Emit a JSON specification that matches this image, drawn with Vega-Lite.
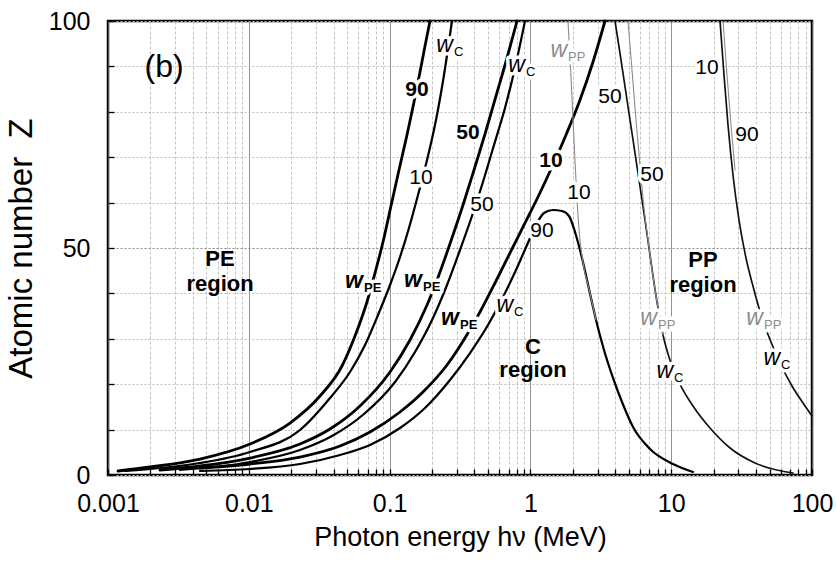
{
 "$schema": "https://vega.github.io/schema/vega-lite/v6.json",
 "width": 704, "height": 454,
 "autosize": {"type": "none"},
 "padding": {"left": 108, "top": 21, "right": 24, "bottom": 89},
 "background": "white",
 "config": {"view": {"stroke": "black", "strokeWidth": 2.5}, "font": "Liberation Sans"},
 "datasets": {
  "curves": [
   {"curve":"PE90","kind":"PE","i":0,"E":0.001178,"Z":0.88},{"curve":"PE90","kind":"PE","i":1,"E":0.001988,"Z":1.76},{"curve":"PE90","kind":"PE","i":2,"E":0.004502,"Z":3.52},{"curve":"PE90","kind":"PE","i":3,"E":0.0102,"Z":6.83},{"curve":"PE90","kind":"PE","i":4,"E":0.01962,"Z":11.45},{"curve":"PE90","kind":"PE","i":5,"E":0.03204,"Z":17.4},{"curve":"PE90","kind":"PE","i":6,"E":0.04591,"Z":24.01},{"curve":"PE90","kind":"PE","i":7,"E":0.05678,"Z":30.62},{"curve":"PE90","kind":"PE","i":8,"E":0.068,"Z":37.44},{"curve":"PE90","kind":"PE","i":9,"E":0.07876,"Z":44.49},{"curve":"PE90","kind":"PE","i":10,"E":0.08976,"Z":51.32},{"curve":"PE90","kind":"PE","i":11,"E":0.1023,"Z":59.25},{"curve":"PE90","kind":"PE","i":12,"E":0.1166,"Z":67.18},{"curve":"PE90","kind":"PE","i":13,"E":0.1329,"Z":74.89},{"curve":"PE90","kind":"PE","i":14,"E":0.1491,"Z":82.16},{"curve":"PE90","kind":"PE","i":15,"E":0.1644,"Z":88.77},{"curve":"PE90","kind":"PE","i":16,"E":0.1784,"Z":94.49},{"curve":"PE90","kind":"PE","i":17,"E":0.1936,"Z":100},
   {"curve":"C10L","kind":"C","i":0,"E":0.001321,"Z":0.88},{"curve":"C10L","kind":"C","i":1,"E":0.001988,"Z":1.32},{"curve":"C10L","kind":"C","i":2,"E":0.004502,"Z":2.64},{"curve":"C10L","kind":"C","i":3,"E":0.0102,"Z":5.07},{"curve":"C10L","kind":"C","i":4,"E":0.0231,"Z":9.91},{"curve":"C10L","kind":"C","i":5,"E":0.03773,"Z":16.96},{"curve":"C10L","kind":"C","i":6,"E":0.05234,"Z":22.69},{"curve":"C10L","kind":"C","i":7,"E":0.0669,"Z":28.63},{"curve":"C10L","kind":"C","i":8,"E":0.08272,"Z":35.24},{"curve":"C10L","kind":"C","i":9,"E":0.1007,"Z":41.85},{"curve":"C10L","kind":"C","i":10,"E":0.1186,"Z":48.02},{"curve":"C10L","kind":"C","i":11,"E":0.1373,"Z":54.41},{"curve":"C10L","kind":"C","i":12,"E":0.1591,"Z":61.67},{"curve":"C10L","kind":"C","i":13,"E":0.1845,"Z":69.38},{"curve":"C10L","kind":"C","i":14,"E":0.2136,"Z":78.19},{"curve":"C10L","kind":"C","i":15,"E":0.2434,"Z":88.11},{"curve":"C10L","kind":"C","i":16,"E":0.2773,"Z":100},
   {"curve":"PE50","kind":"PE","i":0,"E":0.00234,"Z":1.1},{"curve":"PE50","kind":"PE","i":1,"E":0.004502,"Z":1.98},{"curve":"PE50","kind":"PE","i":2,"E":0.0102,"Z":3.74},{"curve":"PE50","kind":"PE","i":3,"E":0.0231,"Z":6.83},{"curve":"PE50","kind":"PE","i":4,"E":0.03773,"Z":10.13},{"curve":"PE50","kind":"PE","i":5,"E":0.06163,"Z":15.2},{"curve":"PE50","kind":"PE","i":6,"E":0.1007,"Z":22.69},{"curve":"PE50","kind":"PE","i":7,"E":0.1396,"Z":29.74},{"curve":"PE50","kind":"PE","i":8,"E":0.1845,"Z":37.44},{"curve":"PE50","kind":"PE","i":9,"E":0.2281,"Z":44.71},{"curve":"PE50","kind":"PE","i":10,"E":0.2773,"Z":52.2},{"curve":"PE50","kind":"PE","i":11,"E":0.3322,"Z":59.47},{"curve":"PE50","kind":"PE","i":12,"E":0.3976,"Z":67.18},{"curve":"PE50","kind":"PE","i":13,"E":0.4761,"Z":75.11},{"curve":"PE50","kind":"PE","i":14,"E":0.5697,"Z":83.48},{"curve":"PE50","kind":"PE","i":15,"E":0.6819,"Z":91.85},{"curve":"PE50","kind":"PE","i":16,"E":0.8035,"Z":100},
   {"curve":"C50L","kind":"C","i":0,"E":0.003243,"Z":1.1},{"curve":"C50L","kind":"C","i":1,"E":0.0102,"Z":2.86},{"curve":"C50L","kind":"C","i":2,"E":0.0231,"Z":5.51},{"curve":"C50L","kind":"C","i":3,"E":0.03899,"Z":8.59},{"curve":"C50L","kind":"C","i":4,"E":0.06579,"Z":13.44},{"curve":"C50L","kind":"C","i":5,"E":0.1093,"Z":20.48},{"curve":"C50L","kind":"C","i":6,"E":0.1515,"Z":27.09},{"curve":"C50L","kind":"C","i":7,"E":0.2033,"Z":34.58},{"curve":"C50L","kind":"C","i":8,"E":0.2557,"Z":41.85},{"curve":"C50L","kind":"C","i":9,"E":0.3162,"Z":49.56},{"curve":"C50L","kind":"C","i":10,"E":0.3847,"Z":57.05},{"curve":"C50L","kind":"C","i":11,"E":0.4603,"Z":64.54},{"curve":"C50L","kind":"C","i":12,"E":0.5515,"Z":72.69},{"curve":"C50L","kind":"C","i":13,"E":0.66,"Z":80.84},{"curve":"C50L","kind":"C","i":14,"E":0.7772,"Z":89.65},{"curve":"C50L","kind":"C","i":15,"E":0.9153,"Z":100},
   {"curve":"PE10","kind":"PE","i":0,"E":0.004502,"Z":1.54},{"curve":"PE10","kind":"PE","i":1,"E":0.0102,"Z":2.42},{"curve":"PE10","kind":"PE","i":2,"E":0.0231,"Z":3.96},{"curve":"PE10","kind":"PE","i":3,"E":0.0445,"Z":6.39},{"curve":"PE10","kind":"PE","i":4,"E":0.07261,"Z":9.47},{"curve":"PE10","kind":"PE","i":5,"E":0.1186,"Z":13.88},{"curve":"PE10","kind":"PE","i":6,"E":0.1784,"Z":18.72},{"curve":"PE10","kind":"PE","i":7,"E":0.2557,"Z":24.23},{"curve":"PE10","kind":"PE","i":8,"E":0.3432,"Z":30.18},{"curve":"PE10","kind":"PE","i":9,"E":0.4385,"Z":35.9},{"curve":"PE10","kind":"PE","i":10,"E":0.5605,"Z":42.29},{"curve":"PE10","kind":"PE","i":11,"E":0.7161,"Z":48.9},{"curve":"PE10","kind":"PE","i":12,"E":0.9006,"Z":55.07},{"curve":"PE10","kind":"PE","i":13,"E":1.132,"Z":61.23},{"curve":"PE10","kind":"PE","i":14,"E":1.423,"Z":67.84},{"curve":"PE10","kind":"PE","i":15,"E":1.789,"Z":74.89},{"curve":"PE10","kind":"PE","i":16,"E":2.25,"Z":82.6},{"curve":"PE10","kind":"PE","i":17,"E":2.783,"Z":90.97},{"curve":"PE10","kind":"PE","i":18,"E":3.388,"Z":100},
   {"curve":"C90","kind":"C","i":0,"E":0.004502,"Z":0.88},{"curve":"C90","kind":"C","i":1,"E":0.0102,"Z":1.32},{"curve":"C90","kind":"C","i":2,"E":0.0231,"Z":2.42},{"curve":"C90","kind":"C","i":3,"E":0.0445,"Z":4.41},{"curve":"C90","kind":"C","i":4,"E":0.07261,"Z":6.61},{"curve":"C90","kind":"C","i":5,"E":0.1186,"Z":10.35},{"curve":"C90","kind":"C","i":6,"E":0.1784,"Z":14.76},{"curve":"C90","kind":"C","i":7,"E":0.2685,"Z":20.93},{"curve":"C90","kind":"C","i":8,"E":0.3724,"Z":26.87},{"curve":"C90","kind":"C","i":9,"E":0.4998,"Z":33.04},{"curve":"C90","kind":"C","i":10,"E":0.6388,"Z":39.21},{"curve":"C90","kind":"C","i":11,"E":0.79,"Z":45.15},{"curve":"C90","kind":"C","i":12,"E":0.946,"Z":50.66},{"curve":"C90","kind":"C","i":13,"E":1.096,"Z":55.07},{"curve":"C90","kind":"C","i":14,"E":1.249,"Z":57.71},{"curve":"C90","kind":"C","i":15,"E":1.447,"Z":58.37},{"curve":"C90","kind":"C","i":16,"E":1.676,"Z":58.15},{"curve":"C90","kind":"C","i":17,"E":1.88,"Z":57.05},{"curve":"C90","kind":"C","i":18,"E":2.074,"Z":53.52},{"curve":"C90","kind":"C","i":19,"E":2.325,"Z":47.8},{"curve":"C90","kind":"C","i":20,"E":2.607,"Z":40.97},{"curve":"C90","kind":"C","i":21,"E":2.924,"Z":34.14},{"curve":"C90","kind":"C","i":22,"E":3.332,"Z":27.53},{"curve":"C90","kind":"C","i":23,"E":3.861,"Z":21.37},{"curve":"C90","kind":"C","i":24,"E":4.473,"Z":16.08},{"curve":"C90","kind":"C","i":25,"E":5.356,"Z":10.57},{"curve":"C90","kind":"C","i":26,"E":7.071,"Z":5.73},{"curve":"C90","kind":"C","i":27,"E":10.3,"Z":2.42},{"curve":"C90","kind":"C","i":28,"E":14.28,"Z":0.66},
   {"curve":"PP10","kind":"PP","i":0,"E":1.849,"Z":100},{"curve":"PP10","kind":"PP","i":1,"E":1.942,"Z":87.67},{"curve":"PP10","kind":"PP","i":2,"E":2.04,"Z":73.79},{"curve":"PP10","kind":"PP","i":3,"E":2.143,"Z":60.57},{"curve":"PP10","kind":"PP","i":4,"E":2.25,"Z":51.76},{"curve":"PP10","kind":"PP","i":5,"E":2.403,"Z":45.59},{"curve":"PP10","kind":"PP","i":6,"E":2.607,"Z":40.97},{"curve":"PP10","kind":"PP","i":7,"E":2.924,"Z":34.14},
   {"curve":"R50","kind":"R","i":0,"E":3.99,"Z":100},{"curve":"R50","kind":"R","i":1,"E":4.401,"Z":91.41},{"curve":"R50","kind":"R","i":2,"E":4.853,"Z":82.6},{"curve":"R50","kind":"R","i":3,"E":5.356,"Z":73.79},{"curve":"R50","kind":"R","i":4,"E":5.906,"Z":64.98},{"curve":"R50","kind":"R","i":5,"E":6.515,"Z":56.17},{"curve":"R50","kind":"R","i":6,"E":7.187,"Z":46.92},{"curve":"R50","kind":"R","i":7,"E":7.925,"Z":38.11},{"curve":"R50","kind":"R","i":8,"E":8.745,"Z":30.84},{"curve":"R50","kind":"R","i":9,"E":9.796,"Z":25.33},{"curve":"R50","kind":"R","i":10,"E":11.54,"Z":20.04},{"curve":"R50","kind":"R","i":11,"E":14.28,"Z":15.2},{"curve":"R50","kind":"R","i":12,"E":18.86,"Z":10.35},{"curve":"R50","kind":"R","i":13,"E":26.18,"Z":5.95},{"curve":"R50","kind":"R","i":14,"E":39.37,"Z":2.64},{"curve":"R50","kind":"R","i":15,"E":73.31,"Z":0.44},
   {"curve":"PP50","kind":"PP","i":0,"E":4.932,"Z":100},{"curve":"PP50","kind":"PP","i":1,"E":5.269,"Z":89.21},{"curve":"PP50","kind":"PP","i":2,"E":5.623,"Z":78.19},{"curve":"PP50","kind":"PP","i":3,"E":6.0,"Z":68.28},{"curve":"PP50","kind":"PP","i":4,"E":6.409,"Z":58.81},{"curve":"PP50","kind":"PP","i":5,"E":6.843,"Z":51.76},{"curve":"PP50","kind":"PP","i":6,"E":7.187,"Z":46.92},{"curve":"PP50","kind":"PP","i":7,"E":7.925,"Z":38.11},{"curve":"PP50","kind":"PP","i":8,"E":8.745,"Z":30.84},
   {"curve":"R90","kind":"R","i":0,"E":22.22,"Z":100},{"curve":"R90","kind":"R","i":1,"E":23.71,"Z":88.11},{"curve":"R90","kind":"R","i":2,"E":25.32,"Z":77.09},{"curve":"R90","kind":"R","i":3,"E":27.47,"Z":66.08},{"curve":"R90","kind":"R","i":4,"E":30.3,"Z":56.17},{"curve":"R90","kind":"R","i":5,"E":33.98,"Z":47.8},{"curve":"R90","kind":"R","i":6,"E":38.73,"Z":40.75},{"curve":"R90","kind":"R","i":7,"E":44.16,"Z":34.58},{"curve":"R90","kind":"R","i":8,"E":51.14,"Z":29.3},{"curve":"R90","kind":"R","i":9,"E":60.23,"Z":24.23},{"curve":"R90","kind":"R","i":10,"E":72.11,"Z":19.6},{"curve":"R90","kind":"R","i":11,"E":86.3,"Z":15.86},{"curve":"R90","kind":"R","i":12,"E":100,"Z":13.0},
   {"curve":"PP90","kind":"PP","i":0,"E":23.33,"Z":100},{"curve":"PP90","kind":"PP","i":1,"E":24.91,"Z":88.11},{"curve":"PP90","kind":"PP","i":2,"E":26.6,"Z":77.09},{"curve":"PP90","kind":"PP","i":3,"E":28.39,"Z":67.18}
  ],
  "labels": [
   {"text":"(b)","kind":"panel","E":0.0025,"Z":89.9},
   {"text":"PE","kind":"region","E":0.006245,"Z":47.6},{"text":"region","kind":"region","E":0.006245,"Z":42.1},
   {"text":"C","kind":"region","E":1.043,"Z":28.2},{"text":"region","kind":"region","E":1.043,"Z":23.1},
   {"text":"PP","kind":"region","E":16.82,"Z":47.36},{"text":"region","kind":"region","E":16.82,"Z":41.85},
   {"text":"90","kind":"numb","E":0.1565,"Z":84.8},{"text":"50","kind":"numb","E":0.3606,"Z":75.3},{"text":"10","kind":"numb","E":1.4,"Z":69.2},
   {"text":"10","kind":"num","E":0.1671,"Z":65.4},{"text":"50","kind":"num","E":0.4531,"Z":59.5},{"text":"90","kind":"num","E":1.209,"Z":53.7},{"text":"10","kind":"num","E":2.214,"Z":62.1},{"text":"50","kind":"num","E":7.303,"Z":66.1},{"text":"50","kind":"num","E":3.675,"Z":83.3},{"text":"10","kind":"num","E":17.96,"Z":89.6},{"text":"90","kind":"num","E":34.54,"Z":74.9}
  ],
  "wlabels": [
   {"sub":"PE","kind":"PE","E":0.06471,"Z":41.19},{"sub":"PE","kind":"PE","E":0.1699,"Z":41.4},{"sub":"PE","kind":"PE","E":0.311,"Z":33.0},
   {"sub":"C","kind":"C","E":0.2818,"Z":93.2},{"sub":"C","kind":"C","E":0.9153,"Z":88.8},{"sub":"C","kind":"C","E":0.7524,"Z":35.9},{"sub":"C","kind":"C","E":10.3,"Z":21.4},{"sub":"C","kind":"C","E":59.27,"Z":24.2},
   {"sub":"PP","kind":"PP","E":1.82,"Z":92.1},{"sub":"PP","kind":"PP","E":7.925,"Z":33.0},{"sub":"PP","kind":"PP","E":44.87,"Z":33.0}
  ]
 },
 "encoding": {
  "x": {"field": "E", "type": "quantitative",
   "scale": {"type": "log", "domain": [0.001, 100], "nice": false},
   "axis": {
    "title": "Photon energy hν (MeV)",
    "values": [0.001,0.002,0.003,0.004,0.005,0.006,0.007,0.008,0.009,0.01,0.02,0.03,0.04,0.05,0.06,0.07,0.08,0.09,0.1,0.2,0.3,0.4,0.5,0.6,0.7,0.8,0.9,1,2,3,4,5,6,7,8,9,10,20,30,40,50,60,70,80,90,100],
    "format": "~g",
    "labelExpr": "abs(log(datum.value)/LN10 - round(log(datum.value)/LN10)) < 0.01 ? datum.label : ''",
    "labelFont": "Liberation Sans", "labelFontSize": 25, "labelColor": "black",
    "labelOverlap": false, "labelFlush": false, "labelBound": false, "labelPadding": 22,
    "tickSize": -6, "tickColor": "black", "tickWidth": 1.3,
    "domain": false,
    "grid": true,
    "gridColor": {"condition": {"test": "abs(log(datum.value)/LN10 - round(log(datum.value)/LN10)) < 0.01", "value": "#6e6e6e"}, "value": "#c4c4c4"},
    "gridDash": {"condition": {"test": "abs(log(datum.value)/LN10 - round(log(datum.value)/LN10)) < 0.01", "value": [1, 0]}, "value": [3, 2]},
    "gridWidth": 1,
    "titleFont": "Liberation Sans", "titleFontSize": 27, "titleFontWeight": "normal", "titleColor": "black", "titlePadding": 8
   }
  },
  "y": {"field": "Z", "type": "quantitative",
   "scale": {"domain": [0, 100], "nice": false, "zero": false},
   "axis": {
    "title": "Atomic number\u00a0 Z",
    "values": [0,10,20,30,40,50,60,70,80,90,100],
    "labelExpr": "datum.value % 50 == 0 ? datum.label : ''",
    "labelFont": "Liberation Sans", "labelFontSize": 25, "labelColor": "black",
    "labelOverlap": false, "labelFlush": false, "labelBound": false, "labelPadding": 24,
    "tickSize": -6, "tickColor": "black", "tickWidth": 1.3,
    "domain": false,
    "grid": true,
    "gridColor": {"condition": {"test": "datum.value == 50", "value": "#8a8a8a"}, "value": "#bdbdbd"},
    "gridDash": [2, 2],
    "gridWidth": 1,
    "titleFont": "Liberation Sans", "titleFontSize": 33, "titleFontWeight": "normal", "titleColor": "black", "titlePadding": 10
   }
  }
 },
 "layer": [
  {"data": {"name": "curves"},
   "mark": {"type": "line", "interpolate": "monotone", "strokeCap": "round"},
   "encoding": {
    "detail": {"field": "curve", "type": "nominal"},
    "order": {"field": "i", "type": "quantitative"},
    "color": {"field": "kind", "type": "nominal", "scale": {"domain": ["PE","C","R","PP"], "range": ["#000000","#000000","#111111","#8c8c8c"]}, "legend": null},
    "strokeWidth": {"field": "kind", "type": "nominal", "scale": {"domain": ["PE","C","R","PP"], "range": [2.8, 1.1, 1.5, 1.8]}, "legend": null}
   }
  },
  {"data": {"name": "labels"}, "transform": [{"filter": "datum.kind == 'numb'"}],
   "mark": {"type": "text", "font": "Liberation Sans", "fontSize": 21, "fontWeight": "bold", "fill": "white", "stroke": "white", "strokeWidth": 7, "strokeJoin": "round"},
   "encoding": {"text": {"field": "text"}}},
  {"data": {"name": "labels"}, "transform": [{"filter": "datum.kind == 'num'"}],
   "mark": {"type": "text", "font": "Liberation Sans", "fontSize": 21, "fill": "white", "stroke": "white", "strokeWidth": 7, "strokeJoin": "round"},
   "encoding": {"text": {"field": "text"}}},
  {"data": {"name": "wlabels"},
   "mark": {"type": "text", "font": "Liberation Sans", "fontSize": 23, "fontStyle": "italic", "align": "right", "baseline": "alphabetic", "fill": "white", "stroke": "white", "strokeWidth": 7, "strokeJoin": "round"},
   "encoding": {"text": {"value": "w"}}},
  {"data": {"name": "wlabels"},
   "mark": {"type": "text", "font": "Liberation Sans", "fontSize": 13, "align": "left", "baseline": "alphabetic", "dx": 1, "dy": 4, "fill": "white", "stroke": "white", "strokeWidth": 7, "strokeJoin": "round"},
   "encoding": {"text": {"field": "sub"}}},
  {"data": {"name": "labels"}, "transform": [{"filter": "datum.kind == 'numb'"}],
   "mark": {"type": "text", "font": "Liberation Sans", "fontSize": 21, "fontWeight": "bold", "fill": "black"},
   "encoding": {"text": {"field": "text"}}},
  {"data": {"name": "labels"}, "transform": [{"filter": "datum.kind == 'num'"}],
   "mark": {"type": "text", "font": "Liberation Sans", "fontSize": 21, "fill": "black"},
   "encoding": {"text": {"field": "text"}}},
  {"data": {"name": "labels"}, "transform": [{"filter": "datum.kind == 'region'"}],
   "mark": {"type": "text", "font": "Liberation Sans", "fontSize": 22, "fontWeight": "bold", "fill": "black"},
   "encoding": {"text": {"field": "text"}}},
  {"data": {"name": "labels"}, "transform": [{"filter": "datum.kind == 'panel'"}],
   "mark": {"type": "text", "font": "Liberation Sans", "fontSize": 32, "fill": "black"},
   "encoding": {"text": {"field": "text"}}},
  {"data": {"name": "wlabels"}, "transform": [{"filter": "datum.kind == 'PE'"}],
   "mark": {"type": "text", "font": "Liberation Sans", "fontSize": 23, "fontStyle": "italic", "fontWeight": "bold", "align": "right", "baseline": "alphabetic", "fill": "black"},
   "encoding": {"text": {"value": "w"}}},
  {"data": {"name": "wlabels"}, "transform": [{"filter": "datum.kind == 'PE'"}],
   "mark": {"type": "text", "font": "Liberation Sans", "fontSize": 13, "fontWeight": "bold", "align": "left", "baseline": "alphabetic", "dx": 1, "dy": 4, "fill": "black"},
   "encoding": {"text": {"field": "sub"}}},
  {"data": {"name": "wlabels"}, "transform": [{"filter": "datum.kind != 'PE'"}],
   "mark": {"type": "text", "font": "Liberation Sans", "fontSize": 23, "fontStyle": "italic", "align": "right", "baseline": "alphabetic"},
   "encoding": {"text": {"value": "w"},
    "color": {"field": "kind", "type": "nominal", "scale": {"domain": ["C","PP"], "range": ["#000000","#808080"]}, "legend": null}}},
  {"data": {"name": "wlabels"}, "transform": [{"filter": "datum.kind != 'PE'"}],
   "mark": {"type": "text", "font": "Liberation Sans", "fontSize": 13, "align": "left", "baseline": "alphabetic", "dx": 1, "dy": 4},
   "encoding": {"text": {"field": "sub"},
    "color": {"field": "kind", "type": "nominal", "scale": {"domain": ["C","PP"], "range": ["#000000","#808080"]}, "legend": null}}}
 ]
}
